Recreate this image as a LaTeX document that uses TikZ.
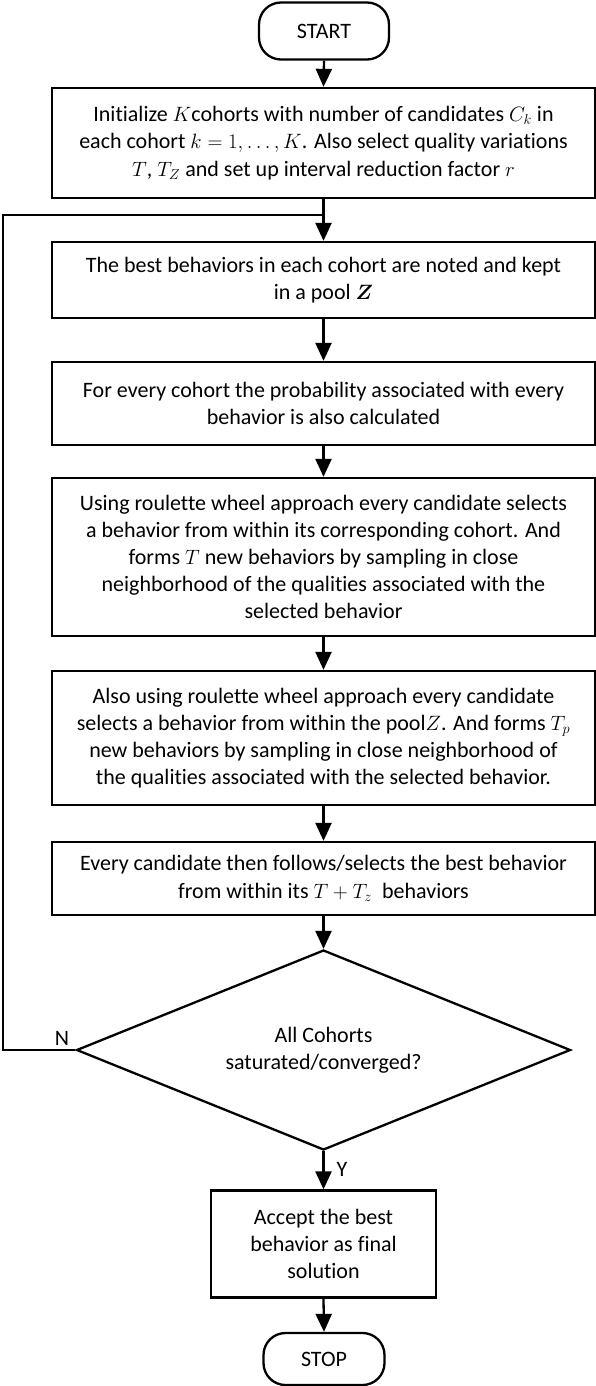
\documentclass[tikz,border=0pt]{standalone}
\usepackage{fontspec}
\setmainfont{Carlito}[RawFeature={-liga,-clig,-calt,-dlig}]
\usepackage{amsmath,bm}
\usetikzlibrary{shapes.geometric,arrows.meta}
\begin{document}
\begin{tikzpicture}[x=1pt,y=-1pt,
  every node/.style={font=\fontsize{22}{27.2}\selectfont},
  line/.style={line width=2.3pt},
  arr/.style={line width=2.3pt,-{Triangle[width=16pt,length=18pt]}},
  procbox/.style={draw,line width=2.3pt,rectangle,align=center,inner sep=0pt,minimum width=543pt},
  termbox/.style={draw,line width=2.3pt,rectangle,rounded corners=22pt,align=center,inner sep=0pt},
  decbox/.style={draw,line width=2.3pt,diamond,aspect=2.47,align=center,inner sep=0pt,minimum width=494pt,minimum height=200pt}
]
\useasboundingbox (0,0) rectangle (596,1386);
\node[termbox,minimum width=130pt,minimum height=57pt] (start) at (324,31) {START};
\node[procbox,minimum height=110pt] (b1) at (323.5,143) {Initialize $K$cohorts with number of candidates $C_k$ in\\each cohort $k=1,\dots,K$. Also select quality variations\\$T$, $T_Z$ and set up interval reduction factor $r$};
\node[procbox,minimum height=76pt] (b2) at (323.5,280) {The best behaviors in each cohort are noted and kept\\in a pool $\bm{Z}$};
\node[procbox,minimum height=83pt] (b3) at (323.5,403.5) {For every cohort the probability associated with every\\behavior is also calculated};
\node[procbox,minimum height=158pt] (b4) at (323.5,557) {Using roulette wheel approach every candidate selects\\a behavior from within its corresponding cohort. And\\forms $T$ new behaviors by sampling in close\\neighborhood of the qualities associated with the\\selected behavior};
\node[procbox,minimum height=134pt] (b5) at (323.5,738) {Also using roulette wheel approach every candidate\\selects a behavior from within the pool$Z$. And forms $T_p$\\new behaviors by sampling in close neighborhood of\\the qualities associated with the selected behavior.};
\node[procbox,minimum height=73pt] (b6) at (323.5,878.5) {Every candidate then follows/selects the best behavior\\from within its $T+T_z$\ \ behaviors};
\node[decbox] (d) at (323.5,1050) {All Cohorts\\saturated/converged?};
\node[procbox,minimum width=225pt,minimum height=107pt] (b7) at (323.5,1244) {Accept the best\\behavior as final\\solution};
\node[termbox,minimum width=121pt,minimum height=52pt] (stop) at (324,1359) {STOP};
\coordinate (j) at (323.5,215);
\coordinate (lb) at (3,1050);
\coordinate (lt) at (3,215);
\draw[arr] (start.south) -- (b1.north);
\draw[arr] (b1.south) -- (b2.north);
\draw[arr] (b2.south) -- (b3.north);
\draw[arr] (b3.south) -- (b4.north);
\draw[arr] (b4.south) -- (b5.north);
\draw[arr] (b5.south) -- (b6.north);
\draw[arr] (b6.south) -- (d.north);
\draw[arr] (d.south) -- (b7.north);
\draw[arr] (b7.south) -- (stop.north);
\draw[line] (d.west) -- (lb) -- (lt) -- (j);
\node (n) at (62,1038) {N};
\node (y) at (342,1169) {Y};
\end{tikzpicture}
\end{document}
